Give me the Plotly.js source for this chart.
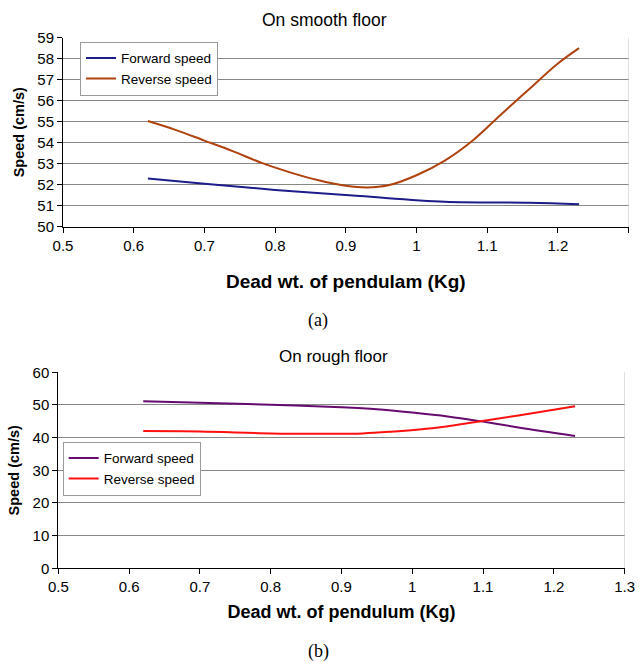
<!DOCTYPE html>
<html>
<head>
<meta charset="utf-8">
<script src="https://cdn.plot.ly/plotly-3.0.1.min.js"></script>
<style>html,body{margin:0;padding:0;background:#fff;}#chart{width:639px;height:662px;}</style>
</head>
<body>
<div id="chart"></div>
<script>
// Chart (a): on smooth floor
const smoothForwardX = [0.62, 0.70, 0.80, 0.92, 1.04, 1.16, 1.23];
const smoothForwardY = [52.30, 52.05, 51.75, 51.46, 51.19, 51.14, 51.07];
const smoothReverseX = [0.62, 0.66, 0.70, 0.74, 0.78, 0.82, 0.86, 0.90, 0.93, 0.96, 1.00, 1.04, 1.08, 1.12, 1.16, 1.20, 1.23];
const smoothReverseY = [55.03, 54.60, 54.10, 53.60, 53.05, 52.60, 52.22, 51.95, 51.87, 51.97, 52.45, 53.15, 54.12, 55.36, 56.57, 57.77, 58.50];

// Chart (b): on rough floor
const roughForwardX = [0.62, 0.70, 0.80, 0.90, 0.95, 1.00, 1.05, 1.10, 1.15, 1.23];
const roughForwardY = [51.1, 50.7, 50.1, 49.3, 48.7, 47.7, 46.5, 44.9, 43.1, 40.5];
const roughReverseX = [0.62, 0.70, 0.80, 0.88, 0.93, 0.97, 1.02, 1.06, 1.10, 1.15, 1.23];
const roughReverseY = [42.0, 41.9, 41.3, 41.2, 41.3, 41.8, 42.7, 43.8, 45.1, 46.8, 49.6];

const xTicks = [0.5, 0.6, 0.7, 0.8, 0.9, 1, 1.1, 1.2, 1.3];
const xTickLabels = ['0.5', '0.6', '0.7', '0.8', '0.9', '1', '1.1', '1.2', '1.3'];
const smoothYTicks = [50, 51, 52, 53, 54, 55, 56, 57, 58, 59];
const roughYTicks = [0, 10, 20, 30, 40, 50, 60];

const seriesNames = ['Forward speed', 'Reverse speed'];
const titles = ['On smooth floor', 'On rough floor'];
const xTitles = ['Dead wt. of pendulam (Kg)', 'Dead wt. of pendulum (Kg)'];
const yTitle = 'Speed (cm/s)';
const captions = ['(a)', '(b)'];

const W = 639, H = 662;
const fx = p => p / W;
const fy = p => 1 - p / H;
const FONT = 'Arial, "Liberation Sans", sans-serif';

const traces = [
  {x: smoothForwardX, y: smoothForwardY, name: seriesNames[0], mode: 'lines',
   line: {color: '#1c1c8a', width: 2, shape: 'spline', smoothing: 1}, xaxis: 'x', yaxis: 'y', legend: 'legend'},
  {x: smoothReverseX, y: smoothReverseY, name: seriesNames[1], mode: 'lines',
   line: {color: '#b0420e', width: 2, shape: 'spline', smoothing: 1}, xaxis: 'x', yaxis: 'y', legend: 'legend'},
  {x: roughForwardX, y: roughForwardY, name: seriesNames[0], mode: 'lines',
   line: {color: '#660a70', width: 2, shape: 'spline', smoothing: 1}, xaxis: 'x2', yaxis: 'y2', legend: 'legend2'},
  {x: roughReverseX, y: roughReverseY, name: seriesNames[1], mode: 'lines',
   line: {color: '#ff1010', width: 2, shape: 'spline', smoothing: 1}, xaxis: 'x2', yaxis: 'y2', legend: 'legend2'}
];

function xAxis(domain, anchor, title, size, standoff) {
  return {
    domain: domain, anchor: anchor, range: [0.5, 1.3], tickmode: 'array',
    tickvals: xTicks, ticktext: xTickLabels, ticks: 'outside', ticklen: 5, tickcolor: '#000',
    showline: true, linecolor: '#000', linewidth: 1, showgrid: false, zeroline: false,
    tickfont: {family: FONT, size: 15, color: '#000'},
    title: {text: title, font: {family: FONT, size: size, color: '#000', weight: 'bold'}, standoff: standoff},
    automargin: false, fixedrange: true
  };
}
function yAxis(domain, anchor, range, ticks) {
  return {
    domain: domain, anchor: anchor, range: range, tickmode: 'array', tickvals: ticks,
    ticks: 'outside', ticklen: 5, tickcolor: '#000',
    showline: true, linecolor: '#000', linewidth: 1, showgrid: true, gridcolor: '#878787', gridwidth: 1,
    zeroline: false, tickfont: {family: FONT, size: 15, color: '#000'},
    title: {text: yTitle, font: {family: FONT, size: 14.5, color: '#000', weight: 'bold'}, standoff: 9},
    automargin: false, fixedrange: true
  };
}

const layout = {
  width: W, height: H,
  margin: {l: 0, r: 0, t: 0, b: 0},
  paper_bgcolor: '#fff', plot_bgcolor: '#fff',
  font: {family: FONT, color: '#000'},
  xaxis: xAxis([fx(63), fx(628.6)], 'y', xTitles[0], 19, 21),
  yaxis: yAxis([fy(226.7), fy(37.7)], 'x', [50, 59], smoothYTicks),
  xaxis2: xAxis([fx(58.3), fx(624.6)], 'y2', xTitles[1], 18, 11),
  yaxis2: yAxis([fy(568.3), fy(372.3)], 'x2', [0, 60], roughYTicks),
  legend: {x: fx(80), y: fy(41.7), xanchor: 'left', yanchor: 'top', bgcolor: '#fff',
           bordercolor: '#9a9a9a', borderwidth: 1, font: {family: FONT, size: 13.5, color: '#000'},
           tracegroupgap: 0, itemwidth: 30},
  legend2: {x: fx(62.7), y: fy(441.7), xanchor: 'left', yanchor: 'top', bgcolor: '#fff',
            bordercolor: '#9a9a9a', borderwidth: 1, font: {family: FONT, size: 13.5, color: '#000'},
            tracegroupgap: 0, itemwidth: 30},
  shapes: [
    {type: 'line', xref: 'x', yref: 'y', x0: 1.3, x1: 1.3, y0: 50, y1: 59, line: {color: '#c4c4c4', width: 1}},
    {type: 'line', xref: 'x2', yref: 'y2', x0: 1.3, x1: 1.3, y0: 0, y1: 60, line: {color: '#c4c4c4', width: 1}}
  ],
  annotations: [
    {text: titles[0], xref: 'paper', yref: 'paper', x: fx(324), y: fy(20), xanchor: 'center', yanchor: 'middle',
     showarrow: false, font: {family: FONT, size: 17.5, color: '#000'}},
    {text: titles[1], xref: 'paper', yref: 'paper', x: fx(333), y: fy(356.5), xanchor: 'center', yanchor: 'middle',
     showarrow: false, font: {family: FONT, size: 17, color: '#000'}},
    {text: captions[0], xref: 'paper', yref: 'paper', x: fx(318), y: fy(320), xanchor: 'center', yanchor: 'middle',
     showarrow: false, font: {family: '"Liberation Serif", "Times New Roman", serif', size: 18, color: '#000'}},
    {text: captions[1], xref: 'paper', yref: 'paper', x: fx(318), y: fy(651), xanchor: 'center', yanchor: 'middle',
     showarrow: false, font: {family: '"Liberation Serif", "Times New Roman", serif', size: 18, color: '#000'}}
  ],
  showlegend: true
};

Plotly.newPlot('chart', traces, layout, {displayModeBar: false, staticPlot: true});
</script>
</body>
</html>
